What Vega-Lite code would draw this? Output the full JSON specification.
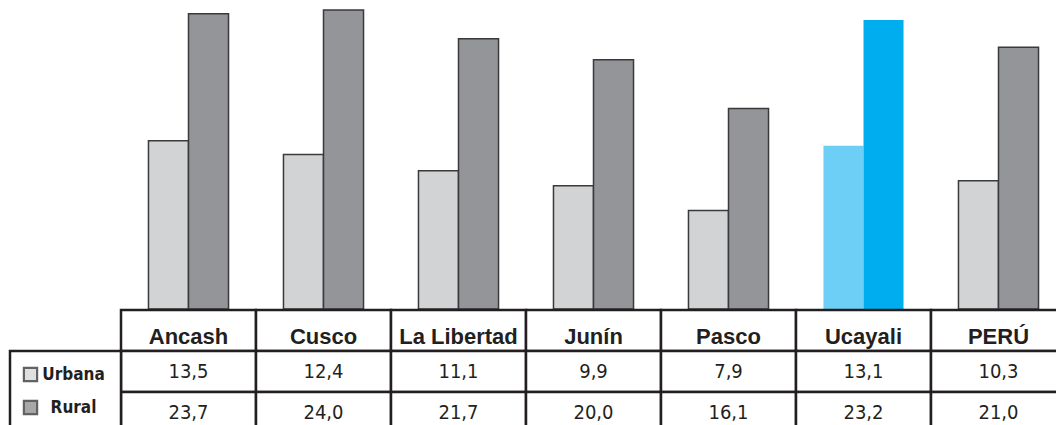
{
  "$schema": "https://vega.github.io/schema/vega-lite/v6.json",
  "width": 1056,
  "height": 425,
  "padding": 0,
  "autosize": {"type": "none"},
  "background": "white",
  "config": {"view": {"stroke": null}, "axis": {"disable": true}, "legend": {"disable": true}},
  "data": {"values": [
    {"region": "Ancash", "zona": "Urbana", "valor": 13.5},
    {"region": "Ancash", "zona": "Rural", "valor": 23.7},
    {"region": "Cusco", "zona": "Urbana", "valor": 12.4},
    {"region": "Cusco", "zona": "Rural", "valor": 24.0},
    {"region": "La Libertad", "zona": "Urbana", "valor": 11.1},
    {"region": "La Libertad", "zona": "Rural", "valor": 21.7},
    {"region": "Junín", "zona": "Urbana", "valor": 9.9},
    {"region": "Junín", "zona": "Rural", "valor": 20.0},
    {"region": "Pasco", "zona": "Urbana", "valor": 7.9},
    {"region": "Pasco", "zona": "Rural", "valor": 16.1},
    {"region": "Ucayali", "zona": "Urbana", "valor": 13.1},
    {"region": "Ucayali", "zona": "Rural", "valor": 23.2},
    {"region": "PERÚ", "zona": "Urbana", "valor": 10.3},
    {"region": "PERÚ", "zona": "Rural", "valor": 21.0}
  ]},
  "resolve": {"scale": {"x": "independent", "y": "independent", "fill": "independent", "xOffset": "independent"}},
  "layer": [
    {
      "mark": {"type": "bar", "strokeWidth": 1.5},
      "encoding": {
        "x": {"field": "region", "type": "nominal", "sort": null, "axis": null,
              "scale": {"domain": ["Ancash", "Cusco", "La Libertad", "Junín", "Pasco", "Ucayali", "PERÚ"], "range": [121, 1066], "paddingInner": 0.407, "paddingOuter": 0.2035}},
        "xOffset": {"field": "zona", "type": "nominal", "scale": {"domain": ["Urbana", "Rural"], "paddingInner": 0, "paddingOuter": 0}},
        "y": {"field": "valor", "type": "quantitative", "axis": null,
              "scale": {"domain": [0, 24.8], "range": [309, 0], "nice": false, "zero": true}},
        "fill": {"field": "zona", "type": "nominal", "legend": null,
                 "scale": {"domain": ["Urbana", "Rural"], "range": ["#d1d3d4", "#939598"]},
                 "condition": [
                   {"test": "datum.region === 'Ucayali' && datum.zona === 'Urbana'", "value": "#6dcff6"},
                   {"test": "datum.region === 'Ucayali' && datum.zona === 'Rural'", "value": "#00aeef"}
                 ]},
        "stroke": {"condition": {"test": "datum.region === 'Ucayali'", "value": "transparent"}, "value": "#3a3a3c"}
      }
    },
    {
      "transform": [{"filter": "datum.zona === 'Urbana'"}],
      "mark": {"type": "rect", "fill": "white", "stroke": "#231f20", "strokeWidth": 2.5},
      "encoding": {
        "x": {"field": "region", "type": "nominal", "sort": null, "axis": null,
              "scale": {"domain": ["Ancash", "Cusco", "La Libertad", "Junín", "Pasco", "Ucayali", "PERÚ"], "range": [121, 1066], "padding": 0}},
        "y": {"datum": "head", "type": "nominal", "axis": null,
              "scale": {"domain": ["head", "Urbana", "Rural"], "range": [310, 433], "padding": 0}}
      }
    },
    {
      "mark": {"type": "rect", "fill": "white", "stroke": "#231f20", "strokeWidth": 2.5},
      "encoding": {
        "x": {"field": "region", "type": "nominal", "sort": null, "axis": null,
              "scale": {"domain": ["Ancash", "Cusco", "La Libertad", "Junín", "Pasco", "Ucayali", "PERÚ"], "range": [121, 1066], "padding": 0}},
        "y": {"field": "zona", "type": "nominal", "axis": null,
              "scale": {"domain": ["head", "Urbana", "Rural"], "range": [310, 433], "padding": 0}}
      }
    },
    {
      "transform": [{"filter": "datum.zona === 'Urbana'"}],
      "mark": {"type": "text", "font": "Liberation Sans", "fontWeight": "bold", "fontSize": 22, "color": "#231f20", "baseline": "middle", "dy": 6},
      "encoding": {
        "x": {"field": "region", "type": "nominal", "sort": null, "axis": null,
              "scale": {"type": "point", "domain": ["Ancash", "Cusco", "La Libertad", "Junín", "Pasco", "Ucayali", "PERÚ"], "range": [121, 1066], "padding": 0.5}},
        "y": {"datum": "head", "type": "nominal", "axis": null,
              "scale": {"type": "point", "domain": ["head", "Urbana", "Rural"], "range": [310, 433], "padding": 0.5}},
        "text": {"field": "region"}
      }
    },
    {
      "transform": [{"calculate": "replace(format(datum.valor, '.1f'), '.', ',')", "as": "etiqueta"}],
      "mark": {"type": "text", "font": "DejaVu Sans Condensed, Liberation Sans", "fontSize": 20, "color": "#231f20", "baseline": "middle", "dy": 0},
      "encoding": {
        "x": {"field": "region", "type": "nominal", "sort": null, "axis": null,
              "scale": {"type": "point", "domain": ["Ancash", "Cusco", "La Libertad", "Junín", "Pasco", "Ucayali", "PERÚ"], "range": [121, 1066], "padding": 0.5}},
        "y": {"field": "zona", "type": "nominal", "axis": null,
              "scale": {"type": "point", "domain": ["head", "Urbana", "Rural"], "range": [310, 433], "padding": 0.5}},
        "text": {"field": "etiqueta"}
      }
    },
    {
      "transform": [{"filter": "datum.region === 'Ancash' && datum.zona === 'Urbana'"}],
      "mark": {"type": "rect", "fill": "white", "stroke": "#231f20", "strokeWidth": 2.5},
      "encoding": {
        "x": {"datum": "hdr", "type": "nominal", "axis": null, "scale": {"domain": ["hdr"], "range": [10, 121], "padding": 0}},
        "y": {"datum": "bloque", "type": "nominal", "axis": null, "scale": {"domain": ["bloque"], "range": [351, 474], "padding": 0}}
      }
    },
    {
      "transform": [{"filter": "datum.region === 'Ancash'"}],
      "mark": {"type": "point", "shape": "square", "filled": true, "size": 175, "stroke": "#231f20", "strokeWidth": 2.2, "xOffset": -35},
      "encoding": {
        "x": {"datum": "hdr", "type": "nominal", "axis": null, "scale": {"type": "point", "domain": ["hdr"], "range": [10, 121], "padding": 0.5}},
        "y": {"field": "zona", "type": "nominal", "axis": null,
              "scale": {"type": "point", "domain": ["head", "Urbana", "Rural"], "range": [325, 424], "padding": 0.5}},
        "fill": {"field": "zona", "type": "nominal", "legend": null,
                 "scale": {"domain": ["Urbana", "Rural"], "range": ["#d1d3d4", "#808285"]}}
      }
    },
    {
      "transform": [{"filter": "datum.region === 'Ancash'"}],
      "mark": {"type": "text", "font": "DejaVu Sans Condensed, Liberation Sans", "fontWeight": "bold", "fontSize": 17, "color": "#231f20", "baseline": "middle", "dx": 8},
      "encoding": {
        "x": {"datum": "hdr", "type": "nominal", "axis": null, "scale": {"type": "point", "domain": ["hdr"], "range": [10, 121], "padding": 0.5}},
        "y": {"field": "zona", "type": "nominal", "axis": null,
              "scale": {"type": "point", "domain": ["head", "Urbana", "Rural"], "range": [325, 424], "padding": 0.5}},
        "text": {"field": "zona"}
      }
    }
  ]
}
